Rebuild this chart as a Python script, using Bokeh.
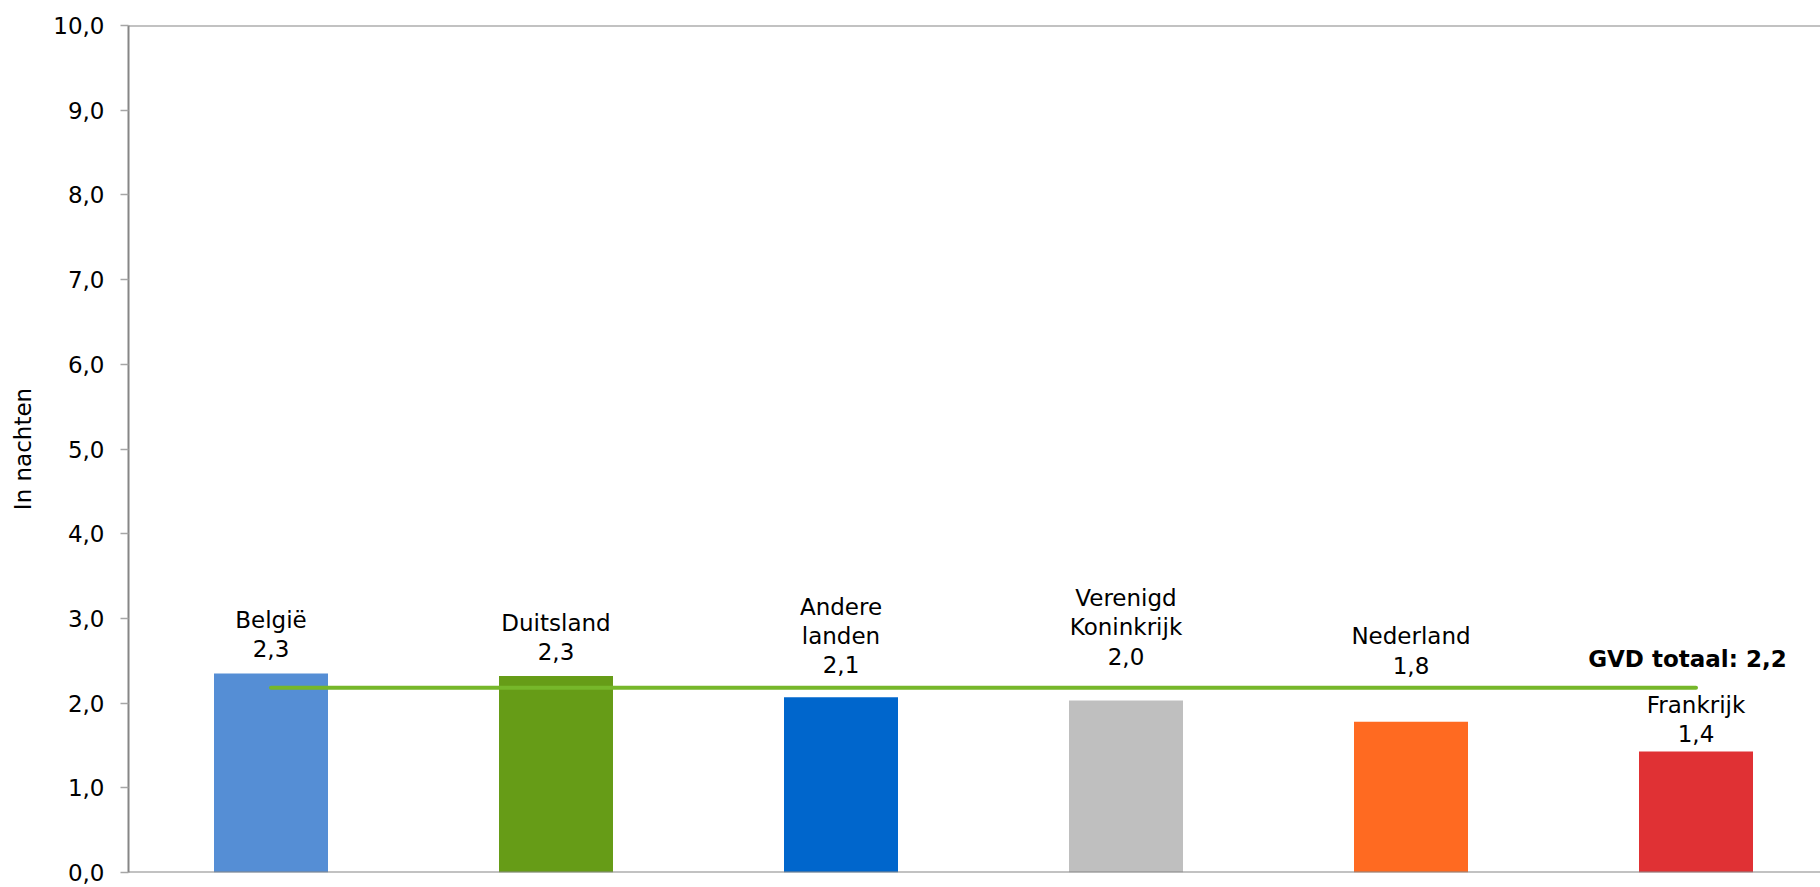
from bokeh.plotting import figure
from bokeh.models import (ColumnDataSource, Range1d, FixedTicker, LabelSet, Label, Span)
from bokeh.core.properties import value
from bokeh.embed import file_html
from bokeh.resources import INLINE

# ---- data ----
categories = ["België", "Duitsland", "Andere\nlanden", "Verenigd\nKoninkrijk", "Nederland", "Frankrijk"]
values = [2.35, 2.32, 2.07, 2.03, 1.78, 1.43]
value_labels = ["2,3", "2,3", "2,1", "2,0", "1,8", "1,4"]
colors = ["#558ED5", "#669C17", "#0066CC", "#BFBFBF", "#FF6A21", "#E03134"]
total_value = 2.18
total_label = "GVD totaal: 2,2"
y_ticks = [0, 1, 2, 3, 4, 5, 6, 7, 8, 9, 10]
y_tick_labels = ["0,0", "1,0", "2,0", "3,0", "4,0", "5,0", "6,0", "7,0", "8,0", "9,0", "10,0"]
y_axis_title = "In nachten"

# label gaps above the bars (px), styling of the manual Excel label placement
label_gap = [16, 16, 24, 36, 48, 9]
LINE_H = 29.3
FONT = "DejaVu Sans"
FS = "23px"

xs = list(range(len(categories)))
bar_src = ColumnDataSource(dict(x=xs, top=values, color=colors))

# label rows
lx, ly, lt, lo = [], [], [], []
for i, cat in enumerate(categories):
    lines = cat.split("\n") + [value_labels[i]]
    for k, line in enumerate(reversed(lines)):
        lx.append(xs[i]); ly.append(values[i]); lt.append(line); lo.append(label_gap[i] + k * LINE_H)
lab_src = ColumnDataSource(dict(x=lx, y=ly, text=lt, yoff=lo))

W, H = 1820, 887
left = 128
top = 25
frame_h = 847
px_per_cat = 285.0
x_end = -0.5 + (W - left) / px_per_cat

p = figure(width=W, height=H, output_backend="svg", toolbar_location=None,
           x_range=Range1d(-0.5, x_end), y_range=Range1d(0, 10),
           min_border_left=left, min_border_right=0, min_border_top=top,
           min_border_bottom=H - top - frame_h)
p.outline_line_color = None
p.xgrid.visible = False
p.ygrid.visible = False
p.xaxis.visible = False

ax = p.yaxis[0]
ax.ticker = FixedTicker(ticks=y_ticks)
ax.major_label_overrides = {t: l for t, l in zip(y_ticks, y_tick_labels)}
ax.minor_tick_line_color = None
ax.major_tick_out = 8
ax.major_tick_in = 0
ax.major_tick_line_color = "#A6A6A6"
ax.major_tick_line_width = 1.5
ax.axis_line_color = "#868686"
ax.axis_line_width = 2
ax.major_label_standoff = 16
ax.major_label_text_font = FONT
ax.major_label_text_font_size = FS
ax.major_label_text_color = "#000000"
ax.axis_label = y_axis_title
ax.axis_label_text_font = FONT
ax.axis_label_text_font_size = FS
ax.axis_label_text_font_style = "normal"
ax.axis_label_text_color = "#000000"
ax.axis_label_standoff = 14

# top and bottom frame lines
p.add_layout(Span(location=y_ticks[-1], dimension="width", line_color="#868686", line_width=2))
p.add_layout(Span(location=y_ticks[0], dimension="width", line_color="#868686", line_width=2))

p.vbar(x="x", top="top", width=0.40, bottom=0, color="color", line_color=None, source=bar_src)

p.line(x=[xs[0], xs[-1]], y=[total_value, total_value], line_color="#76B72A", line_width=4, line_cap="round")

p.add_layout(LabelSet(x="x", y="y", text="text", y_offset="yoff", source=lab_src,
                      text_align="center", text_baseline="alphabetic",
                      text_font=value(FONT), text_font_size=value(FS), text_color="#000000"))

p.add_layout(Label(x=xs[-1] + 0.318, y=total_value, y_offset=29, text=total_label,
                   text_align="right", text_baseline="alphabetic",
                   text_font=FONT, text_font_size=FS, text_font_style="bold", text_color="#000000"))

open("out.html", "w").write(file_html(p, INLINE))
